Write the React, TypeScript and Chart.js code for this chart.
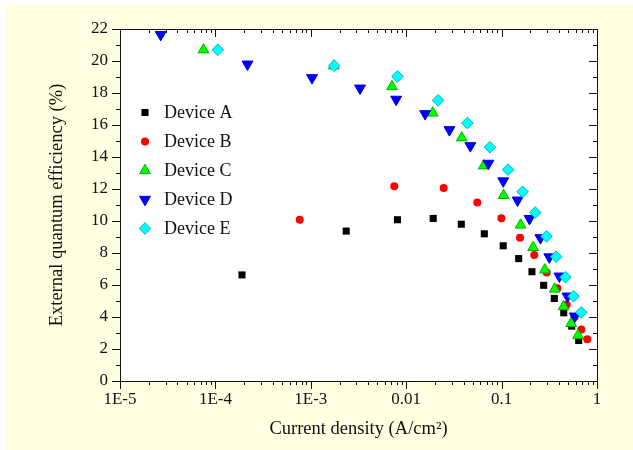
import React, { useEffect, useRef } from 'react';
import { Chart, registerables } from 'chart.js';
import { drawPoint } from 'chart.js/helpers';

Chart.register(...registerables);

const FONT = "'Liberation Serif', 'Times New Roman', serif";

const deviceNames = ['Device A', 'Device B', 'Device C', 'Device D', 'Device E'];

const deviceAX = [1.9e-4, 2.35e-3, 8.1e-3, 0.0192, 0.0378, 0.0659, 0.104, 0.151, 0.208, 0.276, 0.357, 0.448, 0.543, 0.643];
const deviceAY = [6.63, 9.37, 10.08, 10.16, 9.8, 9.2, 8.45, 7.65, 6.83, 5.98, 5.16, 4.26, 3.43, 2.53];

const deviceBX = [7.66e-4, 7.5e-3, 0.0247, 0.0556, 0.0995, 0.156, 0.22, 0.297, 0.384, 0.481, 0.58, 0.685, 0.79];
const deviceBY = [10.08, 12.17, 12.07, 11.16, 10.17, 8.96, 7.88, 6.78, 5.79, 4.76, 4.0, 3.22, 2.61];

const deviceCX = [7.5e-5, 1.74e-3, 7.1e-3, 0.019, 0.0382, 0.065, 0.105, 0.158, 0.214, 0.284, 0.36, 0.446, 0.536, 0.633];
const deviceCY = [20.7, 19.7, 18.4, 16.75, 15.2, 13.45, 11.6, 9.75, 8.35, 6.95, 5.75, 4.65, 3.6, 2.85];

const deviceDX = [2.67e-5, 2.17e-4, 1.03e-3, 3.28e-3, 7.85e-3, 0.0158, 0.0284, 0.047, 0.0727, 0.104, 0.147, 0.196, 0.255, 0.316, 0.403, 0.49, 0.585];
const deviceDY = [21.65, 19.8, 18.95, 18.3, 17.6, 16.7, 15.7, 14.7, 13.6, 12.5, 11.3, 10.15, 8.95, 7.75, 6.55, 5.3, 4.05];

const deviceEX = [1.06e-4, 1.76e-3, 8.1e-3, 0.0216, 0.0438, 0.0755, 0.117, 0.166, 0.225, 0.296, 0.373, 0.467, 0.568, 0.684];
const deviceEY = [20.7, 19.7, 19.03, 17.54, 16.12, 14.61, 13.21, 11.83, 10.53, 9.04, 7.77, 6.49, 5.3, 4.29];

const xTickValues = [1e-5, 1e-4, 1e-3, 0.01, 0.1, 1];
const xTickLabels = ['1E-5', '1E-4', '1E-3', '0.01', '0.1', '1'];
const yMin = 0;
const yMax = 22;
const yStep = 2;

const seriesX = [deviceAX, deviceBX, deviceCX, deviceDX, deviceEX];
const seriesY = [deviceAY, deviceBY, deviceCY, deviceDY, deviceEY];

const markerStyles = [
  { pointStyle: 'rect', rotation: 0, radius: 5, bg: '#000000', border: '#000000', bw: 0 },
  { pointStyle: 'circle', rotation: 0, radius: 4, bg: '#ff0000', border: '#ff0000', bw: 0 },
  { pointStyle: 'triangle', rotation: 0, radius: 6.2, bg: '#00ff00', border: '#00b400', bw: 1 },
  { pointStyle: 'triangle', rotation: 180, radius: 6.3, bg: '#0000ff', border: '#0000e0', bw: 1 },
  { pointStyle: 'rectRot', rotation: 0, radius: 5.8, bg: '#00ffff', border: '#00b4c8', bw: 1 },
];

const backgroundPlugin = {
  id: 'bgPlugin',
  beforeDraw(chart: any) {
    const { ctx, chartArea } = chart;
    ctx.save();
    ctx.fillStyle = '#ffffff';
    ctx.fillRect(0, 0, chart.width, chart.height);
    ctx.fillStyle = '#ffffe1';
    ctx.fillRect(5, 5, chart.width - 5, chart.height - 5);
    ctx.fillStyle = '#ffffff';
    ctx.fillRect(chartArea.left, chartArea.top, chartArea.right - chartArea.left, chartArea.bottom - chartArea.top);
    ctx.restore();
  },
};

const framePlugin = {
  id: 'framePlugin',
  afterDatasetsDraw(chart: any) {
    const { ctx, chartArea, scales } = chart;
    const { left, right, top, bottom } = chartArea;
    const xs = scales.x;
    const ys = scales.y;
    ctx.save();
    ctx.strokeStyle = '#111111';
    ctx.lineWidth = 1;
    ctx.beginPath();
    ctx.rect(Math.round(left) + 0.5, Math.round(top) + 0.5, Math.round(right - left), Math.round(bottom - top));
    ctx.stroke();
    const major = 8;
    const minor = 4;
    ctx.beginPath();
    for (let d = -5; d <= 0; d++) {
      const base = Math.pow(10, d);
      const kMax = d < 0 ? 9 : 1;
      for (let k = 1; k <= kMax; k++) {
        const v = k * base;
        const px = Math.round(xs.getPixelForValue(v)) + 0.5;
        const len = k === 1 ? major : minor;
        ctx.moveTo(px, bottom);
        ctx.lineTo(px, bottom + len);
        ctx.moveTo(px, top);
        ctx.lineTo(px, top + len);
      }
    }
    for (let v = yMin; v <= yMax; v += 1) {
      const py = Math.round(ys.getPixelForValue(v)) + 0.5;
      const len = v % yStep === 0 ? major : minor;
      ctx.moveTo(left, py);
      ctx.lineTo(left - len, py);
      ctx.moveTo(right, py);
      ctx.lineTo(right - len, py);
    }
    ctx.stroke();
    ctx.restore();
  },
};

const legendPlugin = {
  id: 'customLegend',
  afterDraw(chart: any) {
    const { ctx } = chart;
    chart.data.datasets.forEach((ds: any, i: number) => {
      const y = 112.5 + i * 29;
      ctx.save();
      ctx.fillStyle = ds.backgroundColor;
      ctx.strokeStyle = ds.borderColor;
      ctx.lineWidth = ds.borderWidth;
      drawPoint(ctx, { pointStyle: ds.pointStyle, rotation: ds.rotation, radius: ds.pointRadius, borderWidth: ds.borderWidth }, 145, y);
      ctx.fillStyle = '#111111';
      ctx.font = `18px ${FONT}`;
      ctx.textAlign = 'left';
      ctx.textBaseline = 'middle';
      ctx.fillText(ds.label, 164, y + 1);
      ctx.restore();
    });
  },
};

export default function App() {
  const canvasRef = useRef<HTMLCanvasElement | null>(null);

  useEffect(() => {
    const canvas = canvasRef.current;
    if (!canvas) return;
    const datasets = deviceNames.map((name, i) => {
      const s = markerStyles[i];
      return {
        label: name,
        data: seriesX[i].map((x, j) => ({ x, y: seriesY[i][j] })),
        pointStyle: s.pointStyle,
        rotation: s.rotation,
        pointRadius: s.radius,
        pointHoverRadius: s.radius,
        backgroundColor: s.bg,
        borderColor: s.border,
        borderWidth: s.bw,
        showLine: false,
        order: deviceNames.length - i,
      };
    });
    const chart = new Chart(canvas, {
      type: 'scatter',
      data: { datasets } as any,
      options: {
        responsive: false,
        animation: false,
        devicePixelRatio: 1,
        layout: { padding: { top: 29, right: 36, left: 0, bottom: 0 } },
        plugins: {
          legend: { display: false },
          tooltip: { enabled: false },
        },
        scales: {
          x: {
            type: 'logarithmic',
            min: 1e-5,
            max: 1,
            afterBuildTicks: (scale: any) => {
              scale.ticks = xTickValues.map((v) => ({ value: v }));
            },
            afterFit: (scale: any) => {
              scale.height = 69;
            },
            ticks: {
              autoSkip: false,
              maxRotation: 0,
              padding: 8,
              color: '#111111',
              font: { family: FONT, size: 17 },
              callback: (value: any) => {
                const idx = xTickValues.findIndex((t) => Math.abs(Math.log10(t) - Math.log10(Number(value))) < 1e-6);
                return idx >= 0 ? xTickLabels[idx] : '';
              },
            },
            grid: { display: false, drawTicks: false },
            border: { display: false },
            title: {
              display: true,
              text: 'Current density (A/cm²)',
              color: '#111111',
              font: { family: FONT, size: 18.5 },
              padding: { top: 0, bottom: 10 },
            },
          },
          y: {
            type: 'linear',
            min: yMin,
            max: yMax,
            afterFit: (scale: any) => {
              scale.width = 120;
            },
            ticks: {
              stepSize: yStep,
              padding: 12,
              color: '#111111',
              font: { family: FONT, size: 17 },
            },
            grid: { display: false, drawTicks: false },
            border: { display: false },
            title: {
              display: true,
              text: 'External quantum efficiency (%)',
              color: '#111111',
              font: { family: FONT, size: 18.5 },
              padding: { top: 46, bottom: 0 },
            },
          },
        },
      } as any,
      plugins: [backgroundPlugin, framePlugin, legendPlugin],
    });
    return () => chart.destroy();
  }, []);

  return (
    <div style={{ position: 'absolute', left: 0, top: 0, width: 633, height: 450 }}>
      <canvas ref={canvasRef} width={633} height={450} style={{ width: 633, height: 450, display: 'block' }} />
    </div>
  );
}
